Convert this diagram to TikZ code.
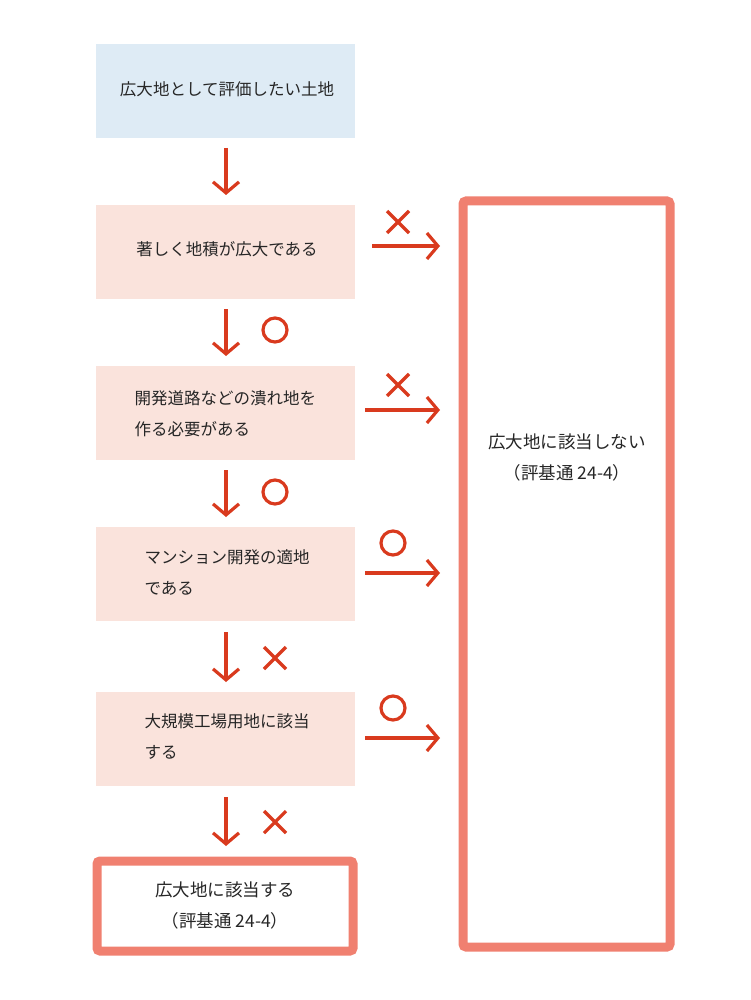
\documentclass[tikz,border=0pt]{standalone}
\usepackage{fontspec}
\setmainfont{Noto Sans CJK JP}
\usetikzlibrary{arrows.meta}
\definecolor{lblue}{HTML}{DEEBF5}
\definecolor{lpink}{HTML}{FAE3DC}
\definecolor{redarr}{HTML}{D93A1E}
\definecolor{frame}{HTML}{F08070}
\begin{document}
\begin{tikzpicture}[x=1pt,y=-1pt,
  box/.style={draw=none,minimum width=259pt,minimum height=94pt,anchor=north west,inner sep=0pt},
  txt/.style={font=\fontsize{16.5}{31}\selectfont,align=left,text=black!85},
  arr/.style={draw=redarr,line width=3.2pt,-{Straight Barb[length=11pt,width=26pt,line width=3.2pt]}},
  symb/.style={draw=redarr,line width=3.2pt},
  big/.style={draw=frame,line width=9pt,rounded corners=3pt,fill=white}]
\useasboundingbox (0,0) rectangle (750,1000);
\node[box,fill=lblue] (b1) at (96,44) {};
\node[box,fill=lpink] (b2) at (96,205) {};
\node[box,fill=lpink] (b3) at (96,366) {};
\node[box,fill=lpink] (b4) at (96,527) {};
\node[box,fill=lpink] (b5) at (96,692) {};
\node[txt] (t1) at (227,89) {広大地として評価したい土地};
\node[txt] (t2) at (227,249) {著しく地積が広大である};
\node[txt,anchor=west] (t3) at (131,414) {開発道路などの潰れ地を\\作る必要がある};
\node[txt,anchor=west] (t4) at (141,572) {マンション開発の適地\\である};
\node[txt,anchor=west] (t5) at (141,737) {大規模工場用地に該当\\する};
\draw[big] (97,861) rectangle (353,951);
\node[txt,align=center,font=\fontsize{17.5}{31}\selectfont] (f1) at (225,905) {広大地に該当する\\（評基通 24-4）};
\draw[big] (463,201) rectangle (670,947);
\node[txt,align=center,font=\fontsize{17.5}{31}\selectfont] (f2) at (567,457) {広大地に該当しない\\（評基通 24-4）};
% down arrows
\foreach \a/\b in {148/195,309/356,470/517,632/682,797/846}
  {\coordinate (s) at (226,\a); \coordinate (e) at (226,\b); \draw[arr] (s) -- (e);}
% right arrows
\foreach \x/\y in {372/246,365/410,365/573,365/738}
  {\coordinate (s) at (\x,\y); \coordinate (e) at (440,\y); \draw[arr] (s) -- (e);}
% circles
\foreach \x/\y in {275/330,275/492,393/543,393/708}
  \draw[symb] (\x,\y) circle (12pt);
% crosses
\foreach \x/\y in {275/658,275/822,398/222,398/385}
  \draw[symb] (\x-11,\y-11) -- (\x+11,\y+11) (\x-11,\y+11) -- (\x+11,\y-11);
\end{tikzpicture}
\end{document}
